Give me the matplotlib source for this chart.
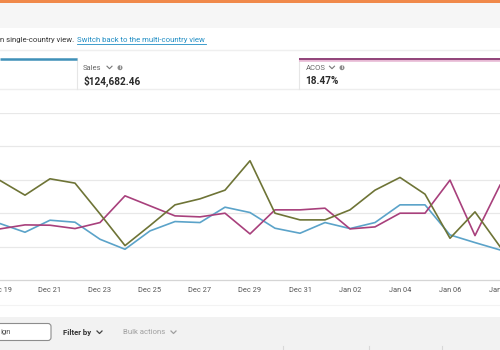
import matplotlib
matplotlib.use("Agg")
import matplotlib.pyplot as plt
from matplotlib.patches import Rectangle, Circle, FancyBboxPatch

plt.rcParams['font.family'] = ['Roboto', 'DejaVu Sans']

# Daily dates shown on the chart (Dec 19 .. Jan 08)
dates = ["Dec 19", "Dec 20", "Dec 21", "Dec 22", "Dec 23", "Dec 24", "Dec 25",
         "Dec 26", "Dec 27", "Dec 28", "Dec 29", "Dec 30", "Dec 31", "Jan 01",
         "Jan 02", "Jan 03", "Jan 04", "Jan 05", "Jan 06", "Jan 07", "Jan 08"]
tick_labels = dates[::2]

# Normalized metric values (chart units, gridlines at 1..5)
clicks = [1.69, 1.43, 1.79, 1.73, 1.22, 0.92, 1.47, 1.75, 1.72, 2.18, 2.02,
          1.55, 1.40, 1.72, 1.54, 1.72, 2.25, 2.25, 1.35, 1.12, 0.90]
sales = [2.98, 2.54, 3.03, 2.90, 1.98, 1.03, 1.63, 2.25, 2.43, 2.69, 3.57,
         2.00, 1.80, 1.80, 2.10, 2.69, 3.07, 2.57, 1.25, 2.04, 1.00]
acos = [1.53, 1.65, 1.64, 1.54, 1.72, 2.52, 2.22, 1.92, 1.89, 2.00, 1.38,
        2.10, 2.10, 2.15, 1.53, 1.59, 2.00, 2.00, 2.99, 1.33, 2.84]

colors = {
    'clicks': '#5ba3c9',
    'sales': '#6e7436',
    'acos': '#a8407c',
    'orange': '#f0894a',
    'grid': '#e8e8e8',
    'muted': '#666666',
    'link': '#1f8dc4',
}

W, H = 500, 350
fig = plt.figure(figsize=(W / 100, H / 100), dpi=100)
fig.patch.set_facecolor('white')

# Background axes in pixel coordinates for the UI chrome
bg = fig.add_axes([0, 0, 1, 1])
bg.set_xlim(0, W)
bg.set_ylim(H, 0)
bg.axis('off')

# top orange bar and grey header band
bg.add_patch(Rectangle((0, 0), W, 2.5, color=colors['orange'], lw=0))
bg.add_patch(Rectangle((0, 2.5), W, 25, color='#f6f6f6', lw=0))

# notice line (left part is cut off by the screenshot edge)
bg.text(74, 40, "You are in single-country view.", fontsize=5.6,
        color='#333333', ha='right', va='center')
bg.text(77, 40, "Switch back to the multi-country view", fontsize=5.6,
        color=colors['link'], ha='left', va='center')
bg.plot([77, 206], [44.2, 44.2], color=colors['link'], lw=0.6)
bg.plot([0, W], [50, 50], color='#efefef', lw=1)

# metric cards
bg.plot([0, W], [89, 89], color='#eeeeee', lw=1)
bg.plot([77, 77], [58, 89], color='#e6e6e6', lw=0.8)
bg.plot([299, 299], [58, 89], color='#e6e6e6', lw=0.8)
bg.plot([0, 77], [59, 59], color='#3f90b8', lw=1.8, solid_capstyle='butt')
bg.plot([299, W], [59.8, 59.8], color='#e7b9d4', lw=2.6, solid_capstyle='butt')
bg.plot([299, W], [59, 59], color='#8a3a72', lw=1.3, solid_capstyle='butt')


def card(x, label, value, chev_x, info_x):
    bg.text(x, 67.5, label, fontsize=5.5, color=colors['muted'],
            ha='left', va='center')
    bg.plot([chev_x, chev_x + 2.5, chev_x + 5], [66.2, 68.7, 66.2],
            color='#777777', lw=0.8)
    bg.add_patch(Circle((info_x, 67.7), 2.5, color='#8c8c8c', lw=0))
    bg.text(info_x, 67.9, "i", fontsize=3.4, color='white',
            ha='center', va='center', fontweight='bold')
    bg.text(x, 81, value, fontsize=7.2, color='#2b2b2b', fontweight='bold',
            ha='left', va='center')


card(83, "Sales", "$124,682.46", 107, 120)
card(305.5, "ACOS", "18.47%", 329.5, 342)

# bottom toolbar
bg.plot([0, W], [305, 305], color='#f3f3f3', lw=0.8)
bg.add_patch(Rectangle((0, 316.5), W, 40, color='#f2f2f2', lw=0))
bg.add_patch(FancyBboxPatch((-10, 323.5), 61, 17,
                            boxstyle='round,pad=0,rounding_size=3',
                            facecolor='white', edgecolor='#8d8d8d', lw=0.8))
bg.text(0, 332, "ign", fontsize=5.6, color='#555555', ha='left', va='center')
bg.text(63, 332, "Filter by", fontsize=5.6, color='#333333',
        fontweight='bold', ha='left', va='center')
bg.plot([97, 99.5, 102], [331, 333.5, 331], color='#444444', lw=0.9)
bg.text(123, 332, "Bulk actions", fontsize=5.6, color='#a0a0a0',
        ha='left', va='center')
bg.plot([171, 173.5, 176], [331, 333.5, 331], color='#a0a0a0', lw=0.9)
for xv in [283, 369, 442]:
    bg.plot([xv, xv], [346, 350], color='#d8d8d8', lw=0.8)

# Chart axes: plot area spans y pixels 113..280, full width
top_px, bot_px = 113, 280
ax = fig.add_axes([0, (H - bot_px) / H, 1, (bot_px - top_px) / H])
ax.set_facecolor('none')
px_per_day = 25.4
first_px = -5
ax.set_xlim(-first_px / px_per_day, (W - first_px) / px_per_day)
ax.set_ylim(0, 5)

x = list(range(len(dates)))
ax.plot(x, clicks, color=colors['clicks'], lw=1.2)
ax.plot(x, acos, color=colors['acos'], lw=1.2)
ax.plot(x, sales, color=colors['sales'], lw=1.2)

ax.set_yticks([1, 2, 3, 4, 5])
ax.yaxis.grid(True, color=colors['grid'], lw=0.9)
ax.set_axisbelow(True)
ax.tick_params(axis='y', left=False, labelleft=False)
ax.set_xticks(x[::2])
ax.set_xticklabels(tick_labels, fontsize=5.3, color='#555555')
ax.tick_params(axis='x', length=0, pad=5)
for side in ['top', 'left', 'right']:
    ax.spines[side].set_visible(False)
ax.spines['bottom'].set_color('#d5d5d5')
ax.spines['bottom'].set_linewidth(0.9)

fig.savefig('out.png', dpi=100)
plt.close(fig)
